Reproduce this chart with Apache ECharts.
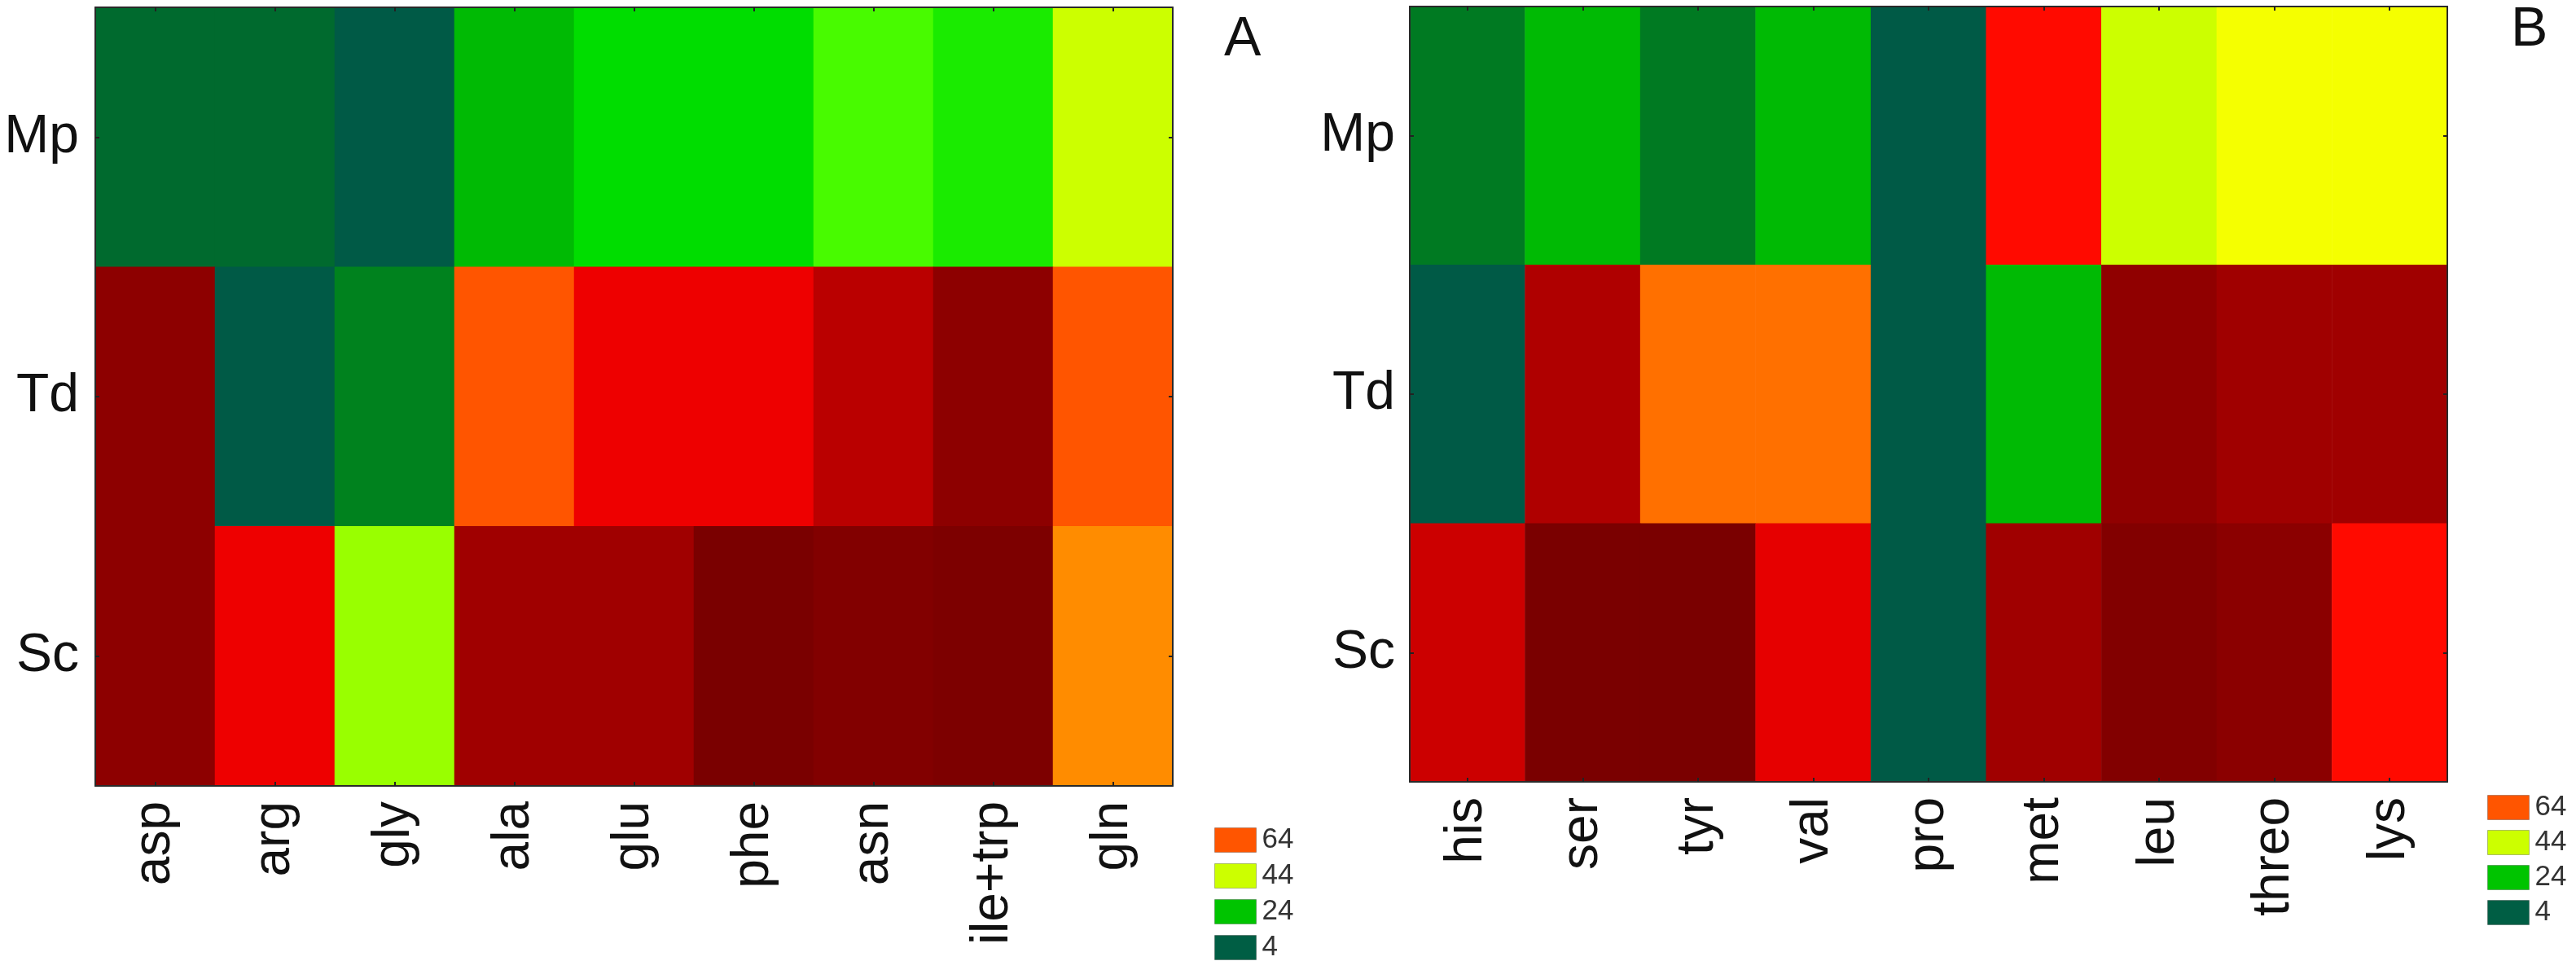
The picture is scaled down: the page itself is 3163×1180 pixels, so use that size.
<!DOCTYPE html>
<html>
<head>
<meta charset="utf-8">
<title>Heatmaps A and B</title>
<script src="https://cdn.jsdelivr.net/npm/echarts@6/dist/echarts.min.js"></script>
<style>
  html, body { margin: 0; padding: 0; background: #fff; }
  #main { width: 3163px; height: 1180px; }
</style>
</head>
<body>
<div id="main"></div>
<script>
// rows (top to bottom)
var rows = ['Mp', 'Td', 'Sc'];

// panel A
var aminoA = ['asp', 'arg', 'gly', 'ala', 'glu', 'phe', 'asn', 'ile+trp', 'gln'];
var mpA = [8, 8, 4, 23, 28, 28, 35, 31, 44];
var tdA = [93, 4, 14, 64, 76, 76, 83, 93, 64];
var scA = [93, 76, 40, 88, 88, 100, 97, 99, 56];

// panel B
var aminoB = ['his', 'ser', 'tyr', 'val', 'pro', 'met', 'leu', 'threo', 'lys'];
var mpB = [12, 23, 12, 23, 4, 72, 44, 48, 48];
var tdB = [4, 85, 60, 60, 4, 23, 92, 88, 88];
var scB = [80, 100, 100, 77, 4, 88, 97, 94, 72];

// legend levels
var levels = ['64', '44', '24', '4'];
var levelColors = ['#ff5500', '#ccff00', '#00c400', '#005e44'];

// green - yellow - red - dark red palette, one colour every 4 units from 0 to 100
var palette = [
    '#004c4a', '#005a46', '#006a2e', '#007a22', '#008a1a', '#00a810',
    '#00c000', '#00dd00', '#22f000', '#55ff00', '#99ff00', '#ccff00',
    '#f5ff00', '#ffc800', '#ff8c00', '#ff7000', '#ff5500', '#ff2000',
    '#ff0a00', '#ee0000', '#cc0000', '#b40000', '#a00000', '#900000',
    '#850000', '#7a0000'
];

function cells(cols, mp, td, sc) {
    var out = [];
    var byRow = [mp, td, sc];
    for (var r = 0; r < rows.length; r++) {
        for (var c = 0; c < cols.length; c++) {
            out.push([c, r, byRow[r][c]]);
        }
    }
    return out;
}

var font = "'Liberation Sans', Arial, sans-serif";
var frame = { show: true, lineStyle: { color: '#2a2a2a', width: 2 } };
var ticks = { show: true, inside: true, length: 5, alignWithLabel: true, lineStyle: { color: '#222', width: 2 } };

function xAxes(cols, grid) {
    return [{
        type: 'category', gridIndex: grid, data: cols, position: 'bottom', z: 5,
        axisLine: frame, axisTick: ticks, splitLine: { show: false },
        axisLabel: { rotate: 90, fontSize: 64, margin: 19, color: '#111', fontFamily: font }
    }, {
        type: 'category', gridIndex: grid, data: cols, position: 'top', z: 5,
        axisLine: frame, axisTick: ticks, axisLabel: { show: false }
    }];
}

function yAxes(grid, margin) {
    return [{
        type: 'category', gridIndex: grid, data: rows, inverse: true, position: 'left', z: 5,
        axisLine: frame, axisTick: ticks, splitLine: { show: false },
        axisLabel: { fontSize: 66, margin: margin, color: '#111', fontFamily: font }
    }, {
        type: 'category', gridIndex: grid, data: rows, inverse: true, position: 'right', z: 5,
        axisLine: frame, axisTick: ticks, axisLabel: { show: false }
    }];
}

var myChart = echarts.init(document.getElementById('main'));

var series = [{
    name: 'A', type: 'heatmap', xAxisIndex: 0, yAxisIndex: 0,
    data: cells(aminoA, mpA, tdA, scA)
}, {
    name: 'B', type: 'heatmap', xAxisIndex: 2, yAxisIndex: 2,
    data: cells(aminoB, mpB, tdB, scB)
}];
// empty series only to feed the colour keys
for (var i = 0; i < levels.length; i++) {
    series.push({
        name: levels[i], type: 'scatter', xAxisIndex: 0, yAxisIndex: 0,
        data: [], itemStyle: { color: levelColors[i], opacity: 1 }
    });
}

function keyLegend(left, top, gap) {
    return {
        orient: 'vertical', left: left, top: top, height: 170, padding: 0,
        selectedMode: false,
        data: levels, icon: 'rect', itemWidth: 51, itemHeight: 30, itemGap: gap,
        itemStyle: { opacity: 1, borderColor: 'rgba(0,0,0,0.25)', borderWidth: 1 },
        textStyle: { fontSize: 35, color: '#333', fontFamily: font, padding: [0, 0, 0, 2] }
    };
}

var option = {
    animation: false,
    backgroundColor: '#fff',
    title: [
        { text: 'A', left: 1498, top: 10, textStyle: { fontSize: 68, fontWeight: 'normal', color: '#111', fontFamily: font } },
        { text: 'B', left: 3078, top: -2, textStyle: { fontSize: 68, fontWeight: 'normal', color: '#111', fontFamily: font } }
    ],
    grid: [
        { left: 117, top: 9, width: 1323, height: 956 },
        { left: 1731, top: 8, width: 1274, height: 952 }
    ],
    xAxis: xAxes(aminoA, 0).concat(xAxes(aminoB, 1)),
    yAxis: yAxes(0, 20).concat(yAxes(1, 18)),
    visualMap: {
        type: 'continuous', show: false, seriesIndex: [0, 1],
        min: 0, max: 100, inRange: { color: palette }
    },
    legend: [keyLegend(1491, 1014, 9), keyLegend(3054, 974, 8)],
    series: series
};

myChart.setOption(option);
</script>
</body>
</html>
